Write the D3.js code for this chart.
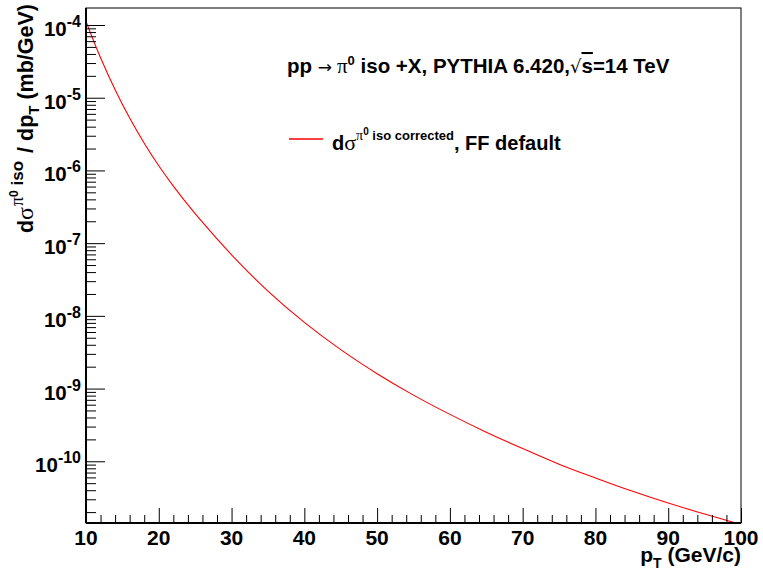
<!DOCTYPE html>
<html><head><meta charset="utf-8">
<script src="https://cdn.jsdelivr.net/npm/d3@7"></script>
<style>
body{margin:0;background:#fff}
svg{display:block}
text{font-family:"Liberation Sans",Arial,Helvetica,sans-serif;font-weight:bold;fill:#000}
.sym{font-family:"Liberation Serif","DejaVu Serif",serif;font-weight:normal}
.arr{font-family:"DejaVu Sans",sans-serif;font-weight:normal}
</style>
</head><body>
<svg id="c" width="763" height="579"></svg>
<script>
// ---- data ----
const ptValues   = [10, 12, 14, 16, 18, 20, 22, 25, 28, 30, 35, 40, 45, 50, 55, 60, 65, 70, 75, 80, 85, 90, 95, 100];
const xsecValues = [1.122e-4, 3.548e-5, 1.288e-5, 5.248e-6, 2.371e-6, 1.161e-6, 6.095e-7, 2.541e-7, 1.148e-7, 6.918e-8,
                    2.188e-8, 8.128e-9, 3.428e-9, 1.603e-9, 8.128e-10, 4.416e-10, 2.512e-10, 1.496e-10, 9.120e-11,
                    5.888e-11, 3.890e-11, 2.661e-11, 1.884e-11, 1.349e-11];
const xTickValues = [10, 20, 30, 40, 50, 60, 70, 80, 90, 100];
const xTickLabels = ["10", "20", "30", "40", "50", "60", "70", "80", "90", "100"];
const yTickExponents = [-10, -9, -8, -7, -6, -5, -4];
const yTickLabels = ["-10", "-9", "-8", "-7", "-6", "-5", "-4"];
const seriesName = "corrected, FF default";

// ---- layout ----
const W = 763, H = 579;
const L = 86, R = 741, T = 8, B = 523;
const svg = d3.select("#c");
svg.append("rect").attr("width", W).attr("height", H).attr("fill", "#fff");

const x = d3.scaleLinear().domain([10, 100]).range([L, R]);
const y = d3.scaleLog().domain([1.416e-11, 1.714e-4]).range([B, T]);

svg.append("clipPath").attr("id", "clip").append("rect")
  .attr("x", L).attr("y", T).attr("width", R - L).attr("height", B - T);

// ---- curve ----
const data = ptValues.map((p, i) => ({p, v: xsecValues[i]}));
const line = d3.line().x(d => x(d.p)).y(d => y(d.v)).curve(d3.curveCatmullRom.alpha(0.5));
svg.append("path").datum(data).attr("d", line)
  .attr("fill", "none").attr("stroke", "#ff0000").attr("stroke-width", 1.1)
  .attr("clip-path", "url(#clip)");

// ---- y axis ----
const yMajor = yTickExponents.map(e => Math.pow(10, e));
const yMinor = y.ticks().filter(v => {
  const m = Math.round(v / Math.pow(10, Math.floor(Math.log10(v) + 1e-9)));
  return m !== 1;
});
const yAxMaj = svg.append("g").attr("transform", `translate(${L},0)`)
  .call(d3.axisLeft(y).tickValues(yMajor).tickSizeInner(-19).tickSizeOuter(0).tickFormat(""));
const yAxMin = svg.append("g").attr("transform", `translate(${L},0)`)
  .call(d3.axisLeft(y).tickValues(yMinor).tickSizeInner(-10).tickSizeOuter(0).tickFormat(""));
[yAxMaj, yAxMin].forEach(g => { g.select(".domain").remove(); g.selectAll("line").attr("stroke", "#000").attr("stroke-width", 1); });

yMajor.forEach((v, i) => {
  const t = svg.append("text").attr("x", 81).attr("y", y(v) + 11)
    .attr("text-anchor", "end").attr("font-size", 20.5);
  t.append("tspan").text("10");
  t.append("tspan").attr("font-size", 16).attr("dy", -9).text(yTickLabels[i]);
});

// ---- x axis ----
const xMinor = d3.range(12, 100, 2).filter(v => v % 10 !== 0);
const xAxMaj = svg.append("g").attr("transform", `translate(0,${B})`)
  .call(d3.axisBottom(x).tickValues(xTickValues).tickSizeInner(-15).tickSizeOuter(0).tickFormat(""));
const xAxMin = svg.append("g").attr("transform", `translate(0,${B})`)
  .call(d3.axisBottom(x).tickValues(xMinor).tickSizeInner(-8).tickSizeOuter(0).tickFormat(""));
[xAxMaj, xAxMin].forEach(g => { g.select(".domain").remove(); g.selectAll("line").attr("stroke", "#000").attr("stroke-width", 1); });

xTickValues.forEach((v, i) => {
  svg.append("text").attr("x", x(v)).attr("y", 545).attr("text-anchor", "middle")
    .attr("font-size", 21).text(xTickLabels[i]);
});

// ---- frame ----
svg.append("rect").attr("x", L).attr("y", T).attr("width", R - L).attr("height", B - T)
  .attr("fill", "none").attr("stroke", "#000").attr("stroke-width", 1);
svg.append("line").attr("x1", L).attr("x2", L).attr("y1", T).attr("y2", B).attr("stroke", "#000").attr("stroke-width", 2);
svg.append("line").attr("x1", L).attr("x2", R).attr("y1", B).attr("y2", B).attr("stroke", "#000").attr("stroke-width", 2);

// ---- x title ----
const xt = svg.append("text").attr("x", 741).attr("y", 562).attr("text-anchor", "end").attr("font-size", 21);
xt.append("tspan").text("p");
xt.append("tspan").attr("font-size", 14).attr("dy", 6).text("T");
xt.append("tspan").attr("dy", -6).text(" (GeV/c)");

// ---- y title ----
const yt = svg.append("text").attr("transform", "translate(33,4) rotate(-90)")
  .attr("text-anchor", "end").attr("font-size", 21.5);
yt.append("tspan").text("d");
yt.append("tspan").attr("class", "sym").attr("font-size", 24).text("σ");
yt.append("tspan").attr("class", "sym").attr("font-size", 18).attr("dy", -10).attr("dx", 1).text("π");
yt.append("tspan").attr("font-size", 12).attr("dy", -5).text("0");
yt.append("tspan").attr("font-size", 17).attr("dy", 5).text(" iso");
yt.append("tspan").attr("dy", 10).attr("dx", 2).text(" / dp");
yt.append("tspan").attr("font-size", 15).attr("dy", 6).text("T");
yt.append("tspan").attr("dy", -6).text(" (mb/GeV)");

// ---- title ----
const tt = svg.append("text").attr("x", 287).attr("y", 73).attr("font-size", 20.5);
tt.append("tspan").text("pp ");
tt.append("tspan").attr("class", "arr").attr("font-size", 17).text("→");
tt.append("tspan").attr("class", "sym").attr("dx", 5).attr("font-size", 21).text("π");
tt.append("tspan").attr("font-size", 13).attr("dy", -8).text("0");
tt.append("tspan").attr("dy", 8).text(" iso +X, PYTHIA 6.420,");
tt.append("tspan").attr("class", "arr").attr("font-size", 18).text("√");
tt.append("tspan").style("text-decoration", "overline").text("s");
tt.append("tspan").text("=14 TeV");

// ---- legend ----
svg.append("line").attr("x1", 289).attr("x2", 323).attr("y1", 139).attr("y2", 139)
  .attr("stroke", "#ff0000").attr("stroke-width", 1.3);
const lg = svg.append("text").attr("x", 332).attr("y", 150).attr("font-size", 20);
lg.append("tspan").text("d");
lg.append("tspan").attr("class", "sym").attr("font-size", 22).text("σ");
lg.append("tspan").attr("class", "sym").attr("font-size", 14).attr("dy", -10).text("π");
lg.append("tspan").attr("font-size", 10).attr("dy", -5).text("0");
lg.append("tspan").attr("font-size", 13).attr("dy", 5).text(" iso " + seriesName.split(",")[0]);
lg.append("tspan").attr("dy", 10).text("," + seriesName.split(",")[1]);
</script>
</body></html>
